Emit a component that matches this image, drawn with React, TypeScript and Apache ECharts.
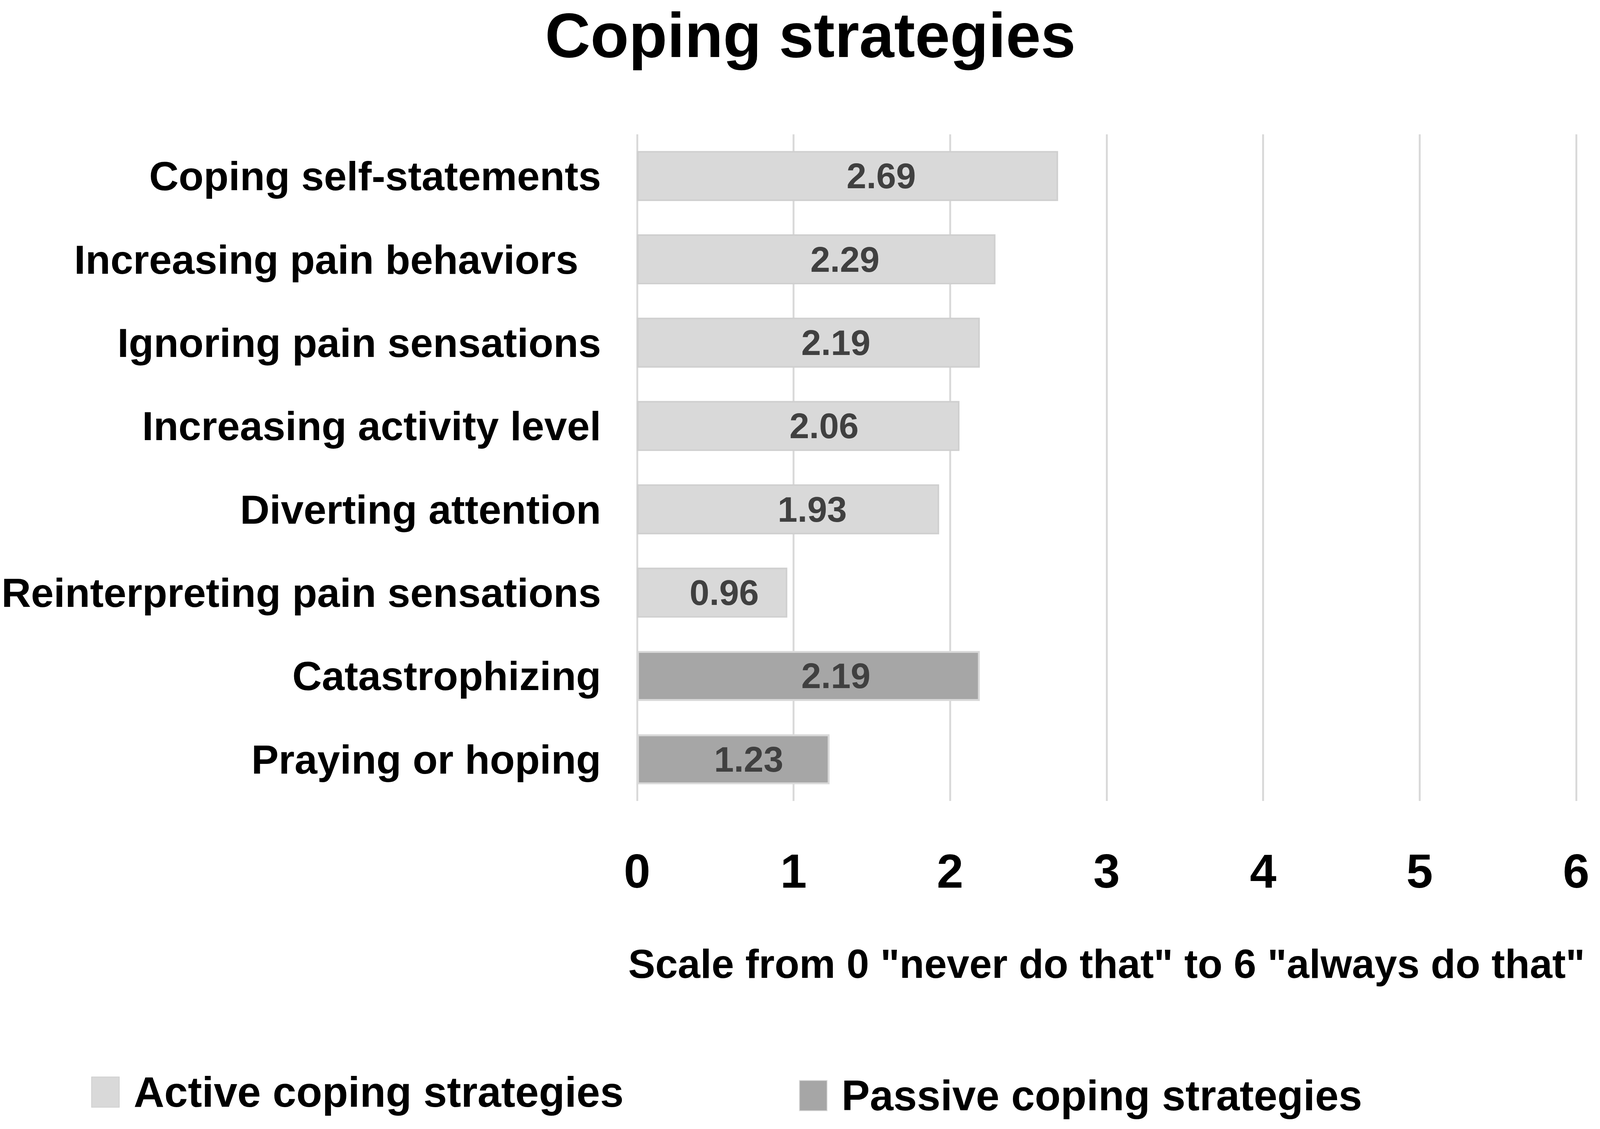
import React, { useEffect, useRef } from 'react';
import * as echarts from 'echarts';

const categories = [
  'Coping self-statements',
  'Increasing pain behaviors  ',
  'Ignoring pain sensations',
  'Increasing activity level',
  'Diverting attention',
  'Reinterpreting pain sensations',
  'Catastrophizing',
  'Praying or hoping',
];
const activeValues: (number | string)[] = [2.69, 2.29, 2.19, 2.06, 1.93, 0.96, '-', '-'];
const passiveValues: (number | string)[] = ['-', '-', '-', '-', '-', '-', 2.19, 1.23];
const activeName = 'Active coping strategies';
const passiveName = 'Passive coping strategies';

const FONT = '"Liberation Sans", Arial, sans-serif';
// layout was measured on a 4227 x 2891 page, scaled to the real viewport
const BASE_W = 4227;
const BASE_H = 2891;

const App: React.FC = () => {
  const chartRef = useRef<HTMLDivElement>(null);

  useEffect(() => {
    document.body.style.margin = '0';
    document.body.style.overflow = 'hidden';
    if (!chartRef.current) return;
    const el = chartRef.current;
    const chart = echarts.init(el, undefined, { renderer: 'svg' });

    const kx = el.clientWidth / BASE_W;
    const ky = el.clientHeight / BASE_H;
    const k = Math.min(kx, ky);
    const X = (v: number) => v * kx;
    const Y = (v: number) => v * ky;
    const F = (v: number) => v * k;

    const barLabel = {
      show: true,
      position: ['58%', '50%'],
      align: 'center',
      verticalAlign: 'middle',
      color: '#404040',
      fontFamily: FONT,
      fontWeight: 'bold',
      fontSize: F(94),
      formatter: (p: any) => Number(p.value).toFixed(2),
    };

    const legendText = {
      color: '#000',
      fontFamily: FONT,
      fontWeight: 'bold',
      fontSize: F(112),
      padding: [0, 0, 0, F(33)],
    };

    const option = {
      animation: false,
      backgroundColor: '#fff',
      title: {
        text: 'Coping strategies',
        left: X(1440),
        top: Y(9),
        padding: 0,
        textStyle: { color: '#000', fontFamily: FONT, fontWeight: 'bold', fontSize: F(166) },
      },
      legend: [
        {
          data: [activeName],
          left: X(241),
          top: Y(2742),
          padding: 0,
          icon: 'rect',
          itemWidth: F(73),
          itemHeight: F(80),
          textStyle: legendText,
        },
        {
          data: [passiveName],
          left: X(2111),
          top: Y(2751),
          padding: 0,
          icon: 'rect',
          itemWidth: F(73),
          itemHeight: F(80),
          textStyle: legendText,
        },
      ],
      grid: { left: X(1683), right: X(63), top: Y(344), bottom: Y(840), containLabel: false },
      xAxis: {
        type: 'value',
        min: 0,
        max: 6,
        interval: 1,
        name: 'Scale from 0 "never do that" to 6 "always do that"',
        nameLocation: 'middle',
        nameGap: Y(365),
        nameTextStyle: { color: '#000', fontFamily: FONT, fontWeight: 'bold', fontSize: F(107) },
        axisLine: { show: false },
        axisTick: { show: false },
        axisLabel: { color: '#000', fontFamily: FONT, fontWeight: 'bold', fontSize: F(126), margin: Y(118) },
        splitLine: { show: true, lineStyle: { color: '#d9d9d9', width: F(5) } },
      },
      yAxis: {
        type: 'category',
        data: categories,
        inverse: true,
        axisLine: { show: false },
        axisTick: { show: false },
        axisLabel: { color: '#000', fontFamily: FONT, fontWeight: 'bold', fontSize: F(108), margin: X(95) },
        splitLine: { show: false },
      },
      series: [
        {
          name: activeName,
          type: 'bar',
          stack: 'all',
          data: activeValues,
          barCategoryGap: '40%',
          itemStyle: { color: '#d9d9d9', borderColor: '#cfcfcf', borderWidth: F(4) },
          label: barLabel,
        },
        {
          name: passiveName,
          type: 'bar',
          stack: 'all',
          data: passiveValues,
          barCategoryGap: '40%',
          itemStyle: { color: '#a6a6a6', borderColor: '#d9d9d9', borderWidth: F(5) },
          label: barLabel,
        },
      ],
    };

    chart.setOption(option as any);
    return () => {
      chart.dispose();
    };
  }, []);

  return <div ref={chartRef} style={{ width: '100vw', height: '100vh' }}></div>;
};

export default App;
